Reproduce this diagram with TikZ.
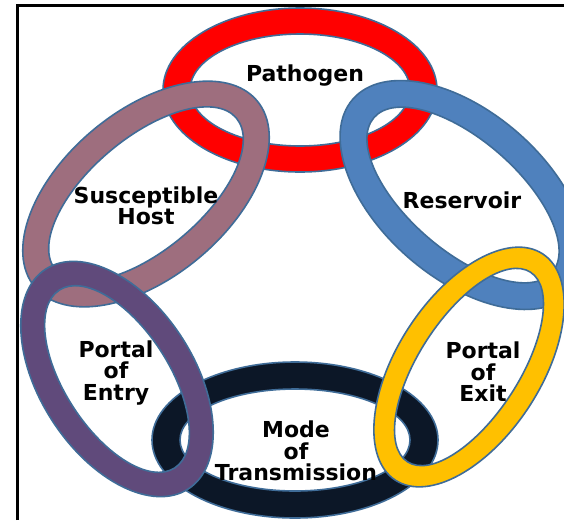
\documentclass[tikz,border=0pt]{standalone}
\usepackage{fontspec}
\setmainfont{DejaVu Sans}
\definecolor{ringline}{HTML}{3F6C98}
\definecolor{ringred}{HTML}{FF0000}
\definecolor{ringblue}{HTML}{4F81BD}
\definecolor{ringmauve}{HTML}{9E6E7E}
\definecolor{ringpurple}{HTML}{604A7B}
\definecolor{ringnavy}{HTML}{0C1727}
\definecolor{ringyellow}{HTML}{FFC000}
\newcommand{\ringdraw}[8]{% cx cy angle a b ia ib color
  \begin{scope}[shift={(#1,#2)}, rotate=#3]
    \path[ring, fill=#8] (0,0) ellipse [x radius=#4pt, y radius=#5pt]
                         (0,0) ellipse [x radius=#6pt, y radius=#7pt];
  \end{scope}}
\begin{document}
\begin{tikzpicture}[x=1pt,y=-1pt,
  ring/.style={draw=ringline, line width=1.6pt, even odd rule},
  lbl/.style={font=\bfseries\fontsize{22}{21.5}\selectfont, align=center, inner sep=0pt}]
\useasboundingbox (0,0) rectangle (564,520);
\fill[white] (0,0) rectangle (564,520);
% rings (bottom to top)
\ringdraw{300}{90}{0}{137}{82}{110}{56}{ringred}
\ringdraw{295}{440}{0}{143}{78}{115}{51}{ringnavy}
\ringdraw{146}{194}{40}{145}{83}{118}{56}{ringmauve}
\ringdraw{463}{195}{-41}{146}{83}{118}{55}{ringblue}
\ringdraw{469}{367}{57}{135}{72}{113}{50}{ringyellow}
\ringdraw{117}{379}{-57}{131}{77}{106}{52}{ringpurple}
% frame
\draw[line width=2.5pt] (17.5,520) -- (17.5,5.5) -- (564,5.5);
% labels
\node[lbl] (pathogen) at (305,76) {Pathogen};
\node[lbl] (host) at (146,206) {Susceptible\\Host};
\node[lbl] (reservoir) at (462,200) {Reservoir};
\node[lbl] (entry) at (116,373) {Portal\\of\\Entry};
\node[lbl] (exit) at (483,372) {Portal\\of\\Exit};
\node[lbl] (mode) at (296,451) {Mode\\of\\Transmission};
\end{tikzpicture}
\end{document}
